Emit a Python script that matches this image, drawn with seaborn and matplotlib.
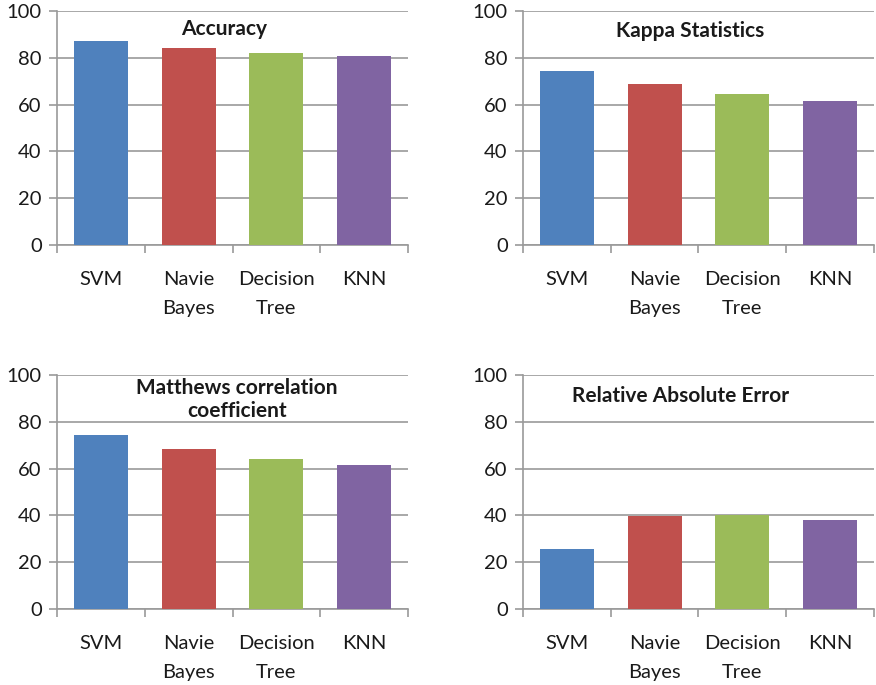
import pandas as pd
import matplotlib.pyplot as plt
import seaborn as sns

# categories and the four metric series
models = ['SVM', 'Navie\nBayes', 'Decision\nTree', 'KNN']
accuracy = [87.2, 84.0, 81.9, 80.6]
kappa = [74.4, 68.8, 64.4, 61.5]
mcc = [74.2, 68.2, 64.0, 61.4]
rae = [25.6, 39.7, 40.0, 37.9]

titles = ['Accuracy', 'Kappa Statistics', 'Matthews correlation\ncoefficient', 'Relative Absolute Error']
colors = ['#4F81BD', '#C0504D', '#9BBB59', '#8064A2']

sns.set_style('white')
plt.rcParams['font.family'] = ['Lato', 'DejaVu Sans']
plt.rcParams['text.color'] = '#1a1a1a'

grid_col = '#9a9a9a'

fig = plt.figure(figsize=(8.76, 6.85), dpi=100)

# axes boxes in figure fractions
boxes = [
    [0.0651, 0.6423, 0.4007, 0.3416],
    [0.597, 0.6423, 0.4007, 0.3416],
    [0.0651, 0.1109, 0.4007, 0.3416],
    [0.597, 0.1109, 0.4007, 0.3416],
]
title_x = [0.476, 0.476, 0.513, 0.45]
title_y = [0.925, 0.915, 0.895, 0.91]

for i, vals in enumerate([accuracy, kappa, mcc, rae]):
    ax = fig.add_axes(boxes[i])
    df = pd.DataFrame({'Model': models, 'Value': vals})
    sns.barplot(data=df, x='Model', y='Value', hue='Model', palette=colors,
                legend=False, width=0.615, saturation=1, linewidth=0,
                ax=ax, zorder=3)
    ax.set_ylim(0, 100)
    ax.set_xlim(-0.5, 3.5)
    ax.set_yticks([0, 20, 40, 60, 80, 100])
    ax.grid(axis='y', color=grid_col, linewidth=1.2, zorder=0)
    ax.set_axisbelow(True)
    for s in ['top', 'right']:
        ax.spines[s].set_visible(False)
    for s in ['left', 'bottom']:
        ax.spines[s].set_color(grid_col)
        ax.spines[s].set_linewidth(1.2)
    ax.tick_params(axis='y', length=6, width=1.2, color=grid_col, direction='out',
                   labelsize=14.5, labelcolor='#1a1a1a', pad=5, left=True)
    # category boundary ticks on x
    ax.set_xticks([-0.5, 0.5, 1.5, 2.5, 3.5], minor=True)
    ax.tick_params(axis='x', which='minor', length=5.5, width=1.2, color=grid_col,
                   direction='out', bottom=True)
    ax.set_xticks(range(len(models)), models, linespacing=1.82, va='top')
    ax.tick_params(axis='x', which='major', length=0, labelsize=14.5,
                   labelcolor='#1a1a1a', pad=19)
    ax.set_xlabel('')
    ax.set_ylabel('')
    ax.text(title_x[i], title_y[i], titles[i], transform=ax.transAxes,
            ha='center', va='center', fontsize=15, fontweight='bold',
            linespacing=1.15, zorder=5)

plt.savefig('out.png', dpi=100)
